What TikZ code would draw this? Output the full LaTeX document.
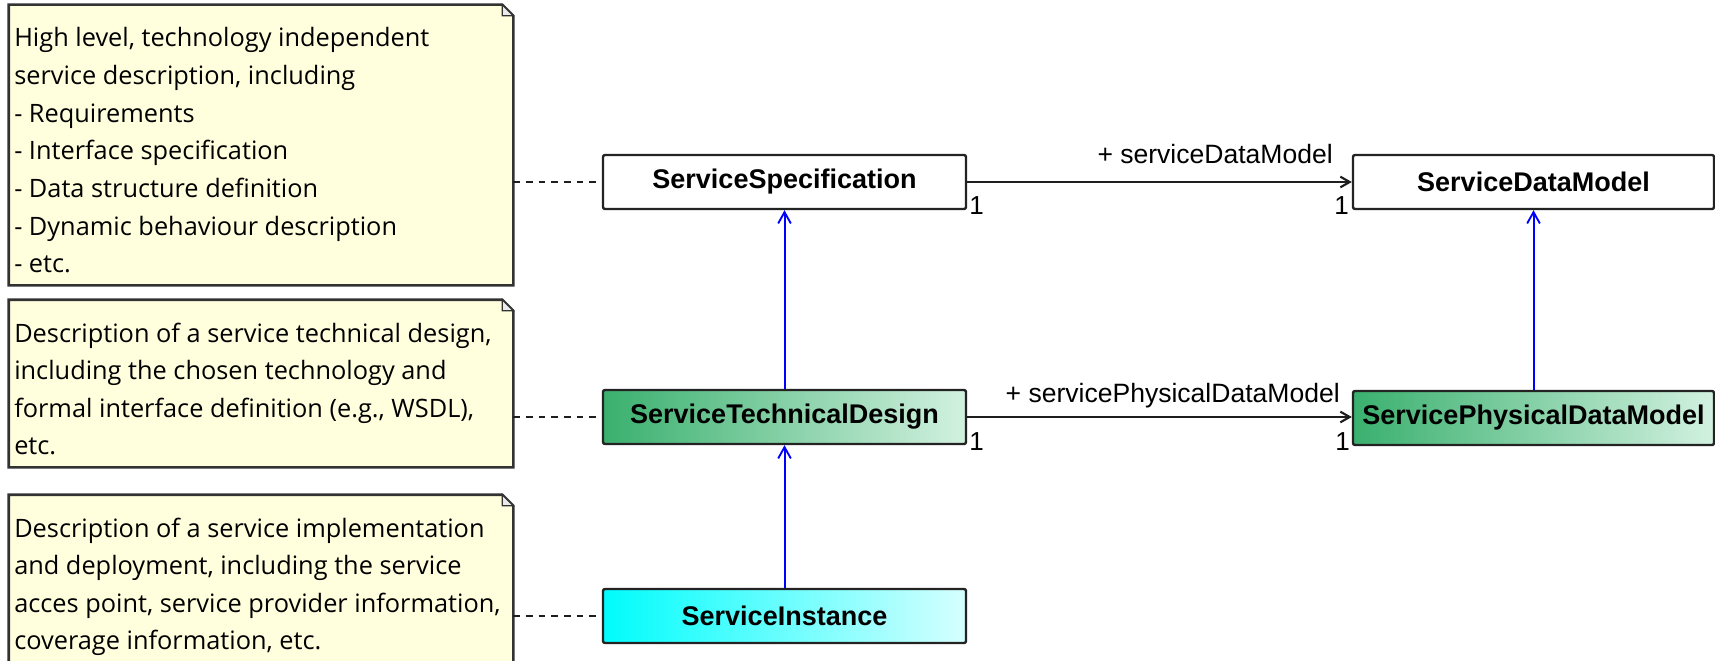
\documentclass[tikz,border=0pt]{standalone}
\usepackage{fontspec}
\setmainfont{Liberation Sans}
\newfontfamily\notefont{Open Sans}
\usetikzlibrary{arrows.meta}
\definecolor{notefill}{RGB}{255,255,222}
\definecolor{noteborder}{RGB}{50,50,50}
\definecolor{boxborder}{RGB}{35,35,35}
\definecolor{greenL}{RGB}{58,176,110}
\definecolor{greenR}{RGB}{210,241,224}
\definecolor{cyanL}{RGB}{0,252,252}
\definecolor{cyanR}{RGB}{214,255,255}
\definecolor{linegray}{RGB}{30,30,30}
\begin{document}
\begin{tikzpicture}[x=0.75pt,y=-0.75pt,
  classbox/.style={draw=boxborder, line width=1.8pt, rounded corners=1.5pt,
    minimum width=272.25pt, minimum height=40.5pt, inner sep=0pt,
    font=\fontsize{20.25pt}{24pt}\selectfont\bfseries},
  greenbox/.style={classbox, left color=greenL, right color=greenR},
  cyanbox/.style={classbox, left color=cyanL, right color=cyanR},
  whitebox/.style={classbox, fill=white},
  notebody/.style={draw=none, fill=none, minimum width=378pt, inner sep=0pt},
  noteline/.style={draw=noteborder, line width=1.9pt, fill=notefill, line join=miter},
  foldline/.style={draw=noteborder, line width=0.9pt, fill=white!92!black},
  notetext/.style={anchor=base west, inner sep=0pt, font=\notefont\fontsize{19pt}{28pt}\selectfont},
  dashline/.style={draw=linegray, line width=1.8pt, dash pattern=on 5pt off 4.5pt},
  genarrow/.style={draw=blue, line width=1.5pt, -{Straight Barb[length=8.5pt,width=9.5pt,line width=1.4pt]}},
  assoc/.style={draw=linegray, line width=1.7pt, -{Straight Barb[length=7pt,width=8pt,line width=1.6pt]}},
  elabel/.style={inner sep=0pt, font=\fontsize{19.9pt}{24pt}\selectfont},
  mult/.style={inner sep=0pt, font=\fontsize{19.5pt}{24pt}\selectfont}
]
\path[use as bounding box, clip] (0,0) rectangle (1715,660);

% ---- class boxes
\node[whitebox] (SS) at (784.5,182) {ServiceSpecification};
\node[whitebox, minimum width=270.75pt] (SDM) at (1533.5,182) {ServiceDataModel};
\node[greenbox] (STD) at (784.5,417) {ServiceTechnicalDesign};
\node[greenbox, minimum width=270.75pt] (SPDM) at (1533.5,418) {ServicePhysicalDataModel};
\node[cyanbox] (SI) at (784.5,616) {ServiceInstance};

% ---- notes
\node[notebody, minimum height=210pt] (N1) at (261,145) {};
\node[notebody, minimum height=125.25pt] (N2) at (261,383.5) {};
\node[notebody, minimum height=131.25pt] (N3) at (261,582.5) {};
\foreach \n in {N1,N2,N3}{
  \draw[noteline] (\n.north west) -- ([xshift=-8.25pt]\n.north east)
     -- ([yshift=-8.25pt]\n.north east) -- (\n.south east) -- (\n.south west) -- cycle;
  \draw[foldline] ([xshift=-8.25pt]\n.north east) -- ([xshift=-8.25pt,yshift=-8.25pt]\n.north east)
     -- ([yshift=-8.25pt]\n.north east) -- cycle;
}

\foreach \txt [count=\i from 0] in {{High level, technology independent},{service description, including},{- Requirements},{- Interface specification},{- Data structure definition},{- Dynamic behaviour description},{- etc.}}
  \node[notetext] (T1\i) at (14,47+37.6*\i) {\txt};
\foreach \txt [count=\i from 0] in {{Description of a service technical design,},{including the chosen technology and},{formal interface definition (e.g., WSDL),},{etc.}}
  \node[notetext] (T2\i) at (14,342+37.6*\i) {\txt};
\foreach \txt [count=\i from 0] in {{Description of a service implementation},{and deployment, including the service},{acces point, service provider information,},{coverage information, etc.}}
  \node[notetext] (T3\i) at (14,537+37.6*\i) {\txt};

% ---- note connectors
\draw[dashline] (SS.west -| N1.east) -- (SS.west);
\draw[dashline] (STD.west -| N2.east) -- (STD.west);
\draw[dashline] (SI.west -| N3.east) -- (SI.west);

% ---- generalizations
\draw[genarrow] (STD.north) -- (SS.south);
\draw[genarrow] (SI.north) -- (STD.south);
\draw[genarrow] (SPDM.north) -- (SDM.south);

% ---- associations
\draw[assoc] (SS.east) -- (SDM.west);
\draw[assoc] (STD.east) -- (SPDM.west |- STD.east);
\node[elabel, anchor=base east] (L1) at (1333,163) {+ serviceDataModel};
\node[elabel, anchor=base east] (L2) at (1340,402) {+ servicePhysicalDataModel};
\node[mult, anchor=base west] (M1) at (969,214) {1};
\node[mult, anchor=base east] (M2) at (1349,214) {1};
\node[mult, anchor=base west] (M3) at (969,450) {1};
\node[mult, anchor=base east] (M4) at (1350,450) {1};
\end{tikzpicture}
\end{document}
